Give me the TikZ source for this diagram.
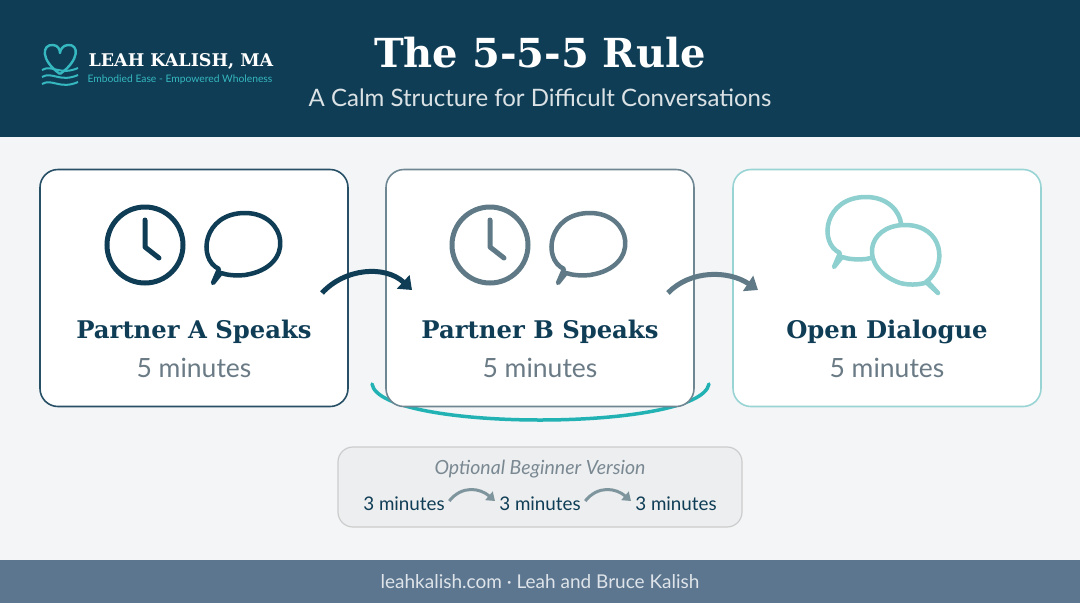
\documentclass[tikz,border=0pt]{standalone}
\usepackage{fontspec}
\setmainfont{Lato}
\newfontfamily\headf{DejaVu Serif}
\usetikzlibrary{arrows.meta}
\definecolor{navy}{HTML}{0F3D55}
\definecolor{bg}{HTML}{F3F5F7}
\definecolor{foot}{HTML}{5C7690}
\definecolor{gtxt}{HTML}{6B7B86}
\definecolor{slate}{HTML}{5F7A86}
\definecolor{lteal}{HTML}{8ECFCF}
\definecolor{teal}{HTML}{22B2B4}
\definecolor{logot}{HTML}{35B8C0}
\begin{document}
\begin{tikzpicture}[x=1pt,y=-1pt,
  card/.style={draw,line width=1.6pt,rounded corners=18pt,fill=white,minimum width=308pt,minimum height=237pt},
  ttl/.style={font=\headf\bfseries\fontsize{24.3}{28}\selectfont,text=navy},
  sub/.style={font=\fontsize{26.5}{30}\selectfont,text=gtxt},
  small/.style={font=\fontsize{18.8}{22}\selectfont,text=navy},
  arr/.style={line width=5pt,-{Triangle[length=12pt,width=18pt]}},
  sarr/.style={line width=3pt,color=slate!80,-{Triangle[length=8pt,width=11pt]}}]
\useasboundingbox (0,0) rectangle (1080,603);
\fill[bg] (0,0) rectangle (1080,603);
\fill[navy] (0,0) rectangle (1080,137);
\fill[foot] (0,560) rectangle (1080,603);
% logo
\draw[logot,line width=2.4pt,line join=round] (60,74) .. controls (40,60) and (42,44) .. (53,45) .. controls (58,45) and (60,50) .. (60,53) .. controls (60,50) and (63,45) .. (68,45) .. controls (79,44) and (80,60) .. (60,74);
\foreach \dy in {0,7,14}{\draw[logot,line width=2pt] (42,70+\dy) .. controls (52,64+\dy) and (60,76+\dy) .. (78,68+\dy);}
\node[anchor=west,text=white,font=\headf\bfseries\fontsize{17.5}{21}\selectfont] (logo) at (85,61) {LEAH KALISH, MA};
\node[anchor=west,text=logot,font=\fontsize{10.3}{12}\selectfont] (tag) at (84,80) {Embodied Ease - Empowered Wholeness};
\node[text=white,font=\headf\bfseries\fontsize{40}{44}\selectfont] (title) at (540,53) {The 5-5-5 Rule};
\node[text=white!85!navy,font=\fontsize{24}{28}\selectfont] (subt) at (540,98) {A Calm Structure for Difficult Conversations};
% cards
\draw[teal,line width=3.5pt,line cap=round] (372,384) .. controls (380,432) and (700,432) .. (709,384);
\node[card,draw=navy!90] (A) at (194,288) {};
\node[card,draw=slate!90] (B) at (540,288) {};
\node[card,draw=lteal!90] (C) at (887,288) {};
\foreach \n/\t/\x in {a/Partner A Speaks/194,b/Partner B Speaks/540,c/Open Dialogue/887}{
  \node[ttl] (t\n) at (\x,332) {\t};
  \node[sub] (m\n) at (\x,368) {5 minutes};}
% icons
\foreach \cx/\col in {145/navy,490/slate}{
  \draw[\col,line width=5pt] (\cx,245) circle (38);
  \draw[\col,line width=5pt,line cap=round,line join=round] (\cx,220) -- (\cx,247) -- (\cx+14,258);}
\newcommand\bub[3]{\draw[#3,line width=4.5pt,line join=round] (#1-26,#2+24) .. controls (#1-48,#2+14) and (#1-42,#2-32) .. (#1,#2-32) .. controls (#1+42,#2-32) and (#1+52,#2+22) .. (#1,#2+30) .. controls (#1-10,#2+31) and (#1-18,#2+30) .. (#1-24,#2+28) -- (#1-32,#2+38) -- cycle;}
\bub{245}{245}{navy}
\bub{590}{245}{slate}
\bub{866}{229}{lteal}
\draw[lteal,line width=4.5pt,fill=white,line join=round] (926,282) .. controls (948,266) and (944,225) .. (905,225) .. controls (866,225) and (858,268) .. (900,283) .. controls (912,286) and (922,284) .. (928,282) -- (938,293) -- cycle;
% arrows
\draw[arr,navy] (322,293) .. controls (345,268) and (385,265) .. (412,290);
\draw[arr,slate] (668,293) .. controls (690,270) and (728,270) .. (758,290);
% optional box
\node[draw=black!20,fill=black!3!bg,line width=1.2pt,rounded corners=15pt,minimum width=404pt,minimum height=80pt] (opt) at (540,487) {};
\node[font=\itshape\fontsize{19.5}{23}\selectfont,text=gtxt!90] (ot) at (540,469) {Optional Beginner Version};
\node[small] (m1) at (404,504) {3 minutes};
\node[small] (m2) at (540,504) {3 minutes};
\node[small] (m3) at (676,504) {3 minutes};
\draw[sarr] (m1.east)++(1,-3) .. controls (462,485) and (480,488) .. (495,501);
\draw[sarr] (m2.east)++(1,-3) .. controls (598,485) and (616,488) .. (631,501);
\node[text=white!80!foot,font=\fontsize{19}{22}\selectfont] (ft) at (540,582) {leahkalish.com · Leah and Bruce Kalish};
\end{tikzpicture}
\end{document}
